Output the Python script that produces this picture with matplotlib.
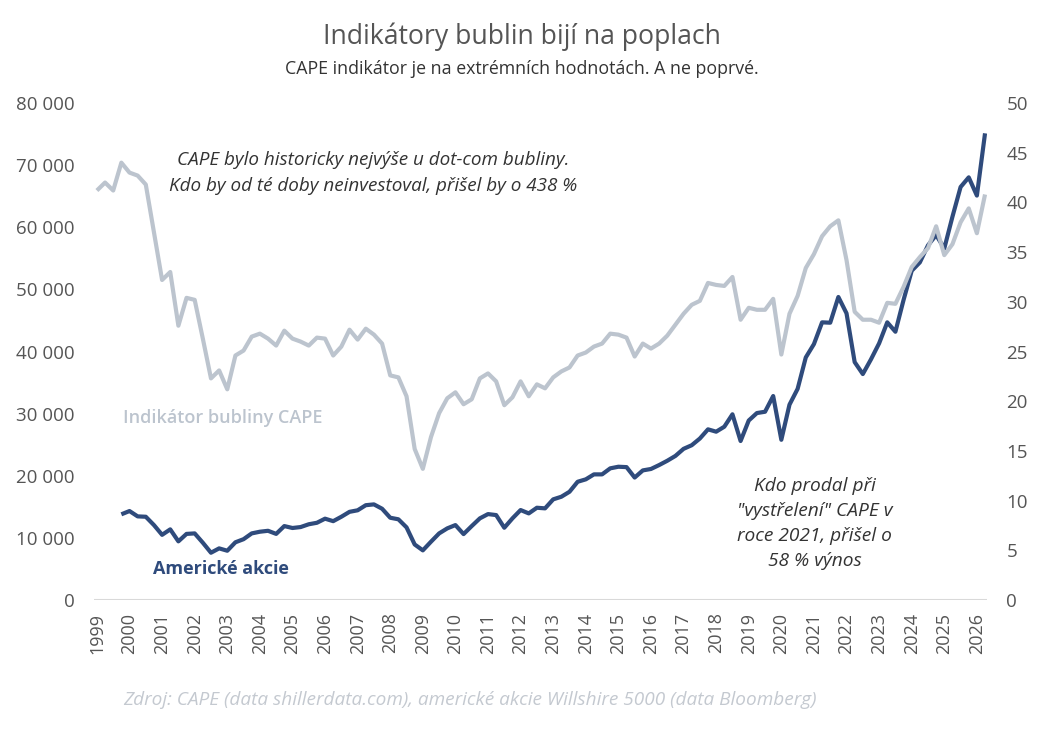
import numpy as np
import matplotlib
matplotlib.use("Agg")
import matplotlib.pyplot as plt
from matplotlib.ticker import FuncFormatter, MultipleLocator

# Quarterly data, first point = 1999 Q1
cape = [41.2, 42.0, 41.2, 44.0, 43.0, 42.7, 41.8, 37.0, 32.2, 33.0,
        27.6, 30.4, 30.2, 26.3, 22.3, 23.1, 21.2, 24.6, 25.1, 26.5,
        26.8, 26.3, 25.6, 27.1, 26.3, 26.0, 25.6, 26.4, 26.3, 24.6,
        25.5, 27.2, 26.2, 27.3, 26.7, 25.8, 22.6, 22.4, 20.5, 15.2,
        13.2, 16.4, 18.8, 20.3, 20.9, 19.7, 20.2, 22.3, 22.8, 22.0,
        19.6, 20.4, 22.0, 20.5, 21.7, 21.3, 22.4, 23.0, 23.4, 24.6,
        24.9, 25.5, 25.8, 26.8, 26.7, 26.4, 24.5, 25.8, 25.3, 25.8,
        26.6, 27.7, 28.8, 29.7, 30.1, 31.9, 31.7, 31.6, 32.5, 28.2,
        29.4, 29.2, 29.2, 30.3, 24.7, 28.8, 30.6, 33.4, 34.8, 36.6,
        37.6, 38.2, 34.2, 29.0, 28.2, 28.2, 27.9, 29.9, 29.8, 31.5,
        33.5, 34.5, 35.4, 37.6, 34.7, 35.8, 38.0, 39.4, 36.9, 40.8]

# Wilshire 5000, starts 1999 Q4
stocks = [np.nan, np.nan, np.nan,
          13800, 14330, 13470, 13410, 12070, 10500, 11380, 9450,
          10650, 10730, 9230, 7620, 8320, 7940, 9300, 9800, 10730,
          11000, 11150, 10650, 11910, 11600, 11750, 12200, 12440, 13100,
          12700, 13410, 14200, 14450, 15270, 15400, 14700, 13250, 13000,
          11700, 8950, 8000, 9390, 10730, 11540, 12070, 10620, 11910,
          13150, 13840, 13680, 11640, 13150, 14490, 13950, 14860, 14760,
          16210, 16630, 17430, 19040, 19430, 20230, 20230, 21200, 21460,
          21400, 19720, 20870, 21100, 21730, 22420, 23200, 24340, 24920,
          26000, 27480, 27100, 27900, 29900, 25600, 28900, 30100, 30310,
          32840, 25800, 31450, 34000, 39050, 41200, 44700, 44640, 48780,
          46150, 38300, 36380, 38740, 41320, 44700, 43190, 48300, 53000,
          54350, 57100, 58750, 56600, 61700, 66480, 68040, 65100, 75120]

years = list(range(1999, 2027))
quarters = 1999 + np.arange(len(cape)) * 0.25

plt.rcParams['font.family'] = ['Open Sans', 'DejaVu Sans']

CAPE_COLOR = '#bcc4ce'
STOCK_COLOR = '#2f4b7c'
TEXT_COLOR = '#555555'

fig = plt.figure(figsize=(10.43, 7.39), dpi=100)
ax = fig.add_axes([0.0901, 0.188, 0.8562, 0.6726])
ax2 = ax.twinx()

ax.plot(quarters, stocks, color=STOCK_COLOR, lw=3.0, solid_capstyle='butt')
ax2.plot(quarters, cape, color=CAPE_COLOR, lw=3.0, solid_capstyle='butt')

ax.set_xlim(1999 - 0.09, 2026.31)
ax.set_ylim(0, 80000)
ax2.set_ylim(0, 50)
ax.yaxis.set_major_locator(MultipleLocator(10000))
ax2.yaxis.set_major_locator(MultipleLocator(5))
ax.yaxis.set_major_formatter(FuncFormatter(lambda v, p: f"{int(v):,}".replace(",", " ")))

ax.set_xticks(years)
ax.set_xticklabels([str(y) for y in years], rotation=90)

for a in (ax, ax2):
    for s in a.spines.values():
        s.set_visible(False)
    a.tick_params(length=0, labelsize=13.5, labelcolor=TEXT_COLOR)
ax.tick_params(axis='y', pad=14)
ax2.tick_params(axis='y', pad=14)
ax.tick_params(axis='x', pad=9, labelsize=13)
ax.axhline(0, color='#d9d9d9', lw=1.5, zorder=0)

fig.text(0.5, 0.950, "Indikátory bublin bijí na poplach", ha='center', va='center',
         fontsize=19.2, color=TEXT_COLOR)
fig.text(0.5, 0.907, "CAPE indikátor je na extrémních hodnotách. A ne poprvé.",
         ha='center', va='center', fontsize=12.8, color='#333333')

ax.text(0.313, 0.859, "CAPE bylo historicky nejvýše u dot-com bubliny.\n"
        "Kdo by od té doby neinvestoval, přišel by o 438 %",
        transform=ax.transAxes, ha='center', va='center', fontsize=13.6,
        style='italic', color='#333333', linespacing=1.62)
ax.text(0.807, 0.155, "Kdo prodal při\n\"vystřelení\" CAPE v\nroce 2021, přišel o\n58 % výnos",
        transform=ax.transAxes, ha='center', va='center', fontsize=13.8,
        style='italic', color='#333333', linespacing=1.5)
ax.text(0.032, 0.366, "Indikátor bubliny CAPE", transform=ax.transAxes,
        ha='left', va='center', fontsize=13, color=CAPE_COLOR, fontweight='semibold')
ax.text(0.066, 0.063, "Americké akcie", transform=ax.transAxes,
        ha='left', va='center', fontsize=13, color=STOCK_COLOR, fontweight='bold')

fig.text(0.118, 0.053, "Zdroj: CAPE (data shillerdata.com), americké akcie Willshire 5000 (data Bloomberg)",
         ha='left', va='center', fontsize=13.7, style='italic', color='#c4c9d0')

fig.savefig("out.png", dpi=100)
